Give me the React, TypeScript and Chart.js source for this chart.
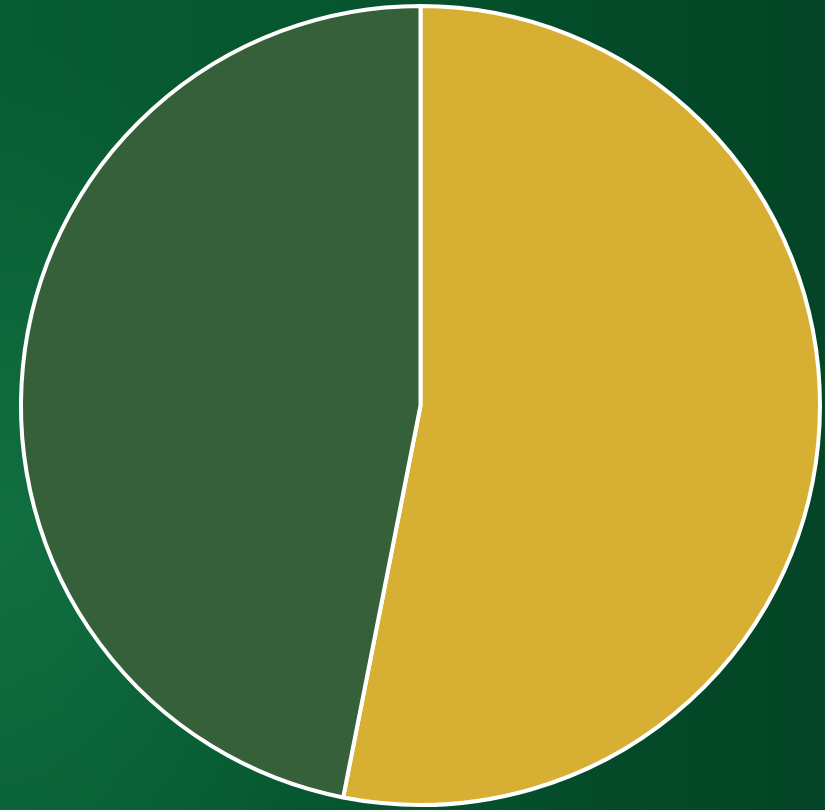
import React, { useEffect, useRef } from "react";
import { Chart, registerables } from "chart.js";

Chart.register(...registerables);

const labels = ["Gold", "Green"];
const values = [53.1, 46.9];
const colors = ["#D6AF33", "#35603A"];

export default function App() {
  const ref = useRef<HTMLCanvasElement | null>(null);

  useEffect(() => {
    document.body.style.margin = "0";
    if (!ref.current) return;
    const chart = new Chart(ref.current, {
      type: "pie",
      data: {
        labels,
        datasets: [
          {
            data: values,
            backgroundColor: colors,
            borderColor: "#FFFFFF",
            borderWidth: 4,
          },
        ],
      },
      options: {
        animation: false,
        responsive: false,
        maintainAspectRatio: false,
        layout: { padding: { left: 19, right: 3, top: 4, bottom: 3 } },
        plugins: {
          legend: { display: false },
          tooltip: { enabled: false },
        },
      },
    });
    return () => chart.destroy();
  }, []);

  return (
    <div
      style={{
        width: 825,
        height: 810,
        background:
          "radial-gradient(ellipse 45% 60% at 0% 65%, rgba(18,112,66,0.95) 0%, rgba(18,112,66,0) 100%), linear-gradient(90deg, #075c32 0%, #065630 40%, #044a28 75%, #034526 100%)",
        position: "relative",
        overflow: "hidden",
      }}
    >
      <canvas ref={ref} width={825} height={810} style={{ display: "block" }} />
    </div>
  );
}
